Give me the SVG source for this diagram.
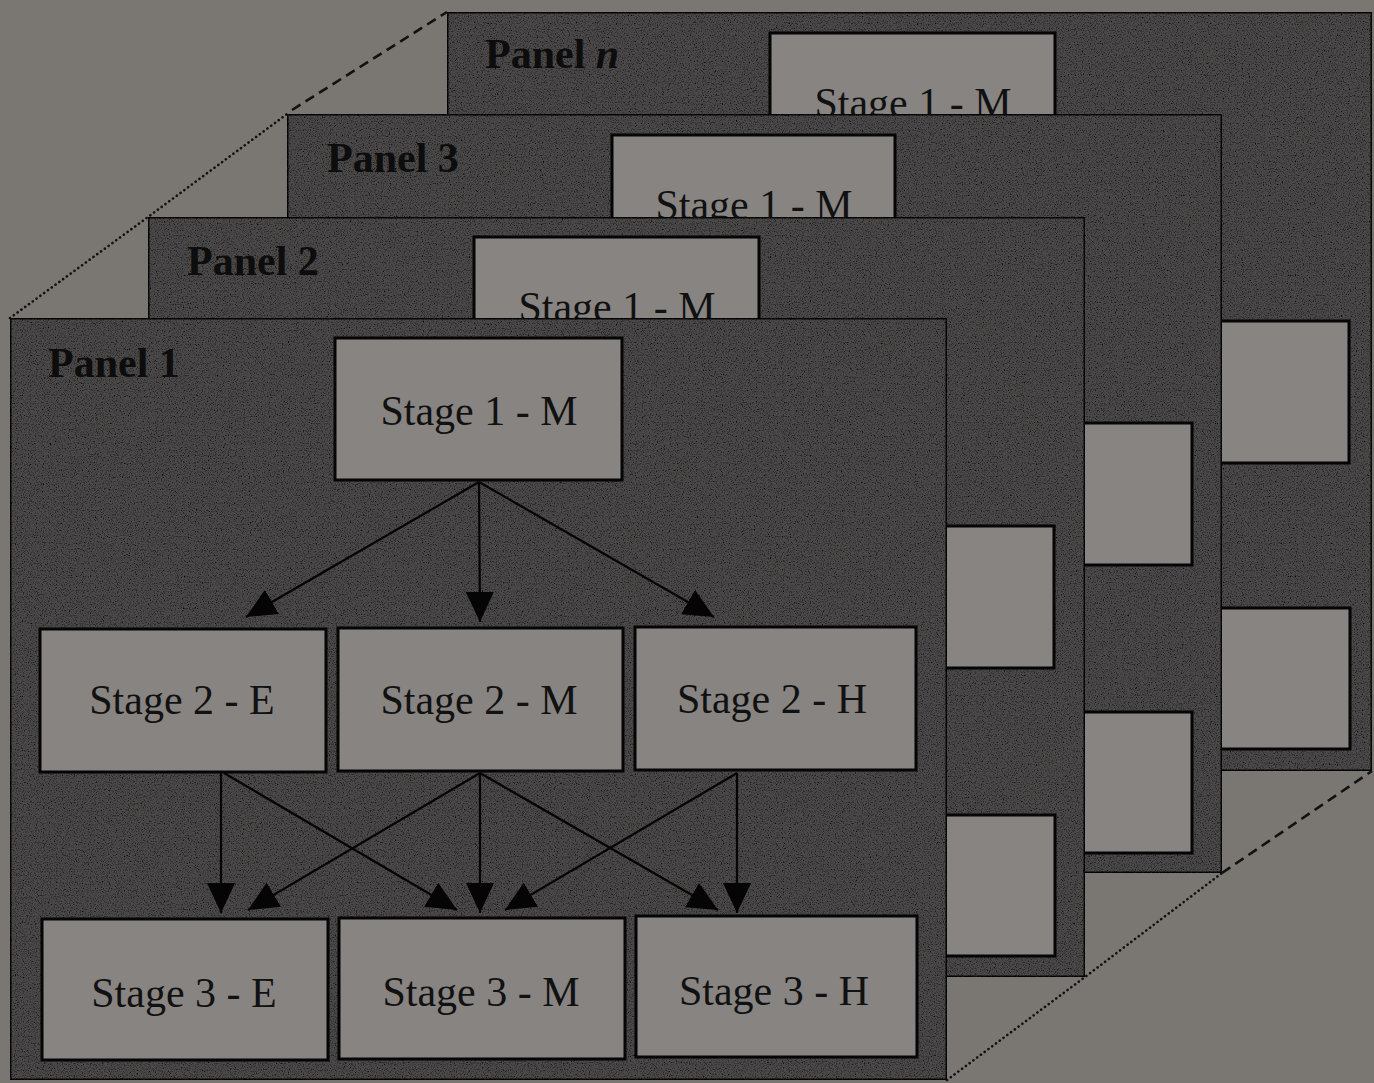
<svg xmlns="http://www.w3.org/2000/svg" width="1374" height="1083" viewBox="0 0 1374 1083">
<defs>
<style>
.bg{fill:#7a7672}
.panel{fill:#4c4a48;stroke:#0a0a0a;stroke-width:3}
.box{fill:#878481;stroke:#050505;stroke-width:3}
.plabel{font-family:"Liberation Serif","Times New Roman",serif;font-weight:bold;font-size:42px;fill:#0d0d0d}
.stxt{font-family:"Liberation Serif","Times New Roman",serif;font-size:42px;fill:#111;text-anchor:middle}
.edge{stroke:#050505;stroke-width:2.2;fill:none;marker-end:url(#ah)}
.dot{stroke:#111;stroke-width:2.6;fill:none;stroke-dasharray:0.1 4.6;stroke-linecap:round}
.dash{stroke:#111;stroke-width:2.6;fill:none;stroke-dasharray:10 6}
</style>
<marker id="ah" markerUnits="userSpaceOnUse" markerWidth="31" markerHeight="28" refX="30" refY="14" orient="auto">
<path d="M0,0 L30,14 L0,28 z" fill="#050505"/>
</marker>
<filter id="grain" x="0" y="0" width="100%" height="100%">
<feTurbulence type="fractalNoise" baseFrequency="0.85" numOctaves="2" seed="7" result="t"/>
<feColorMatrix in="t" type="matrix" values="0 0 0 0 0  0 0 0 0 0  0 0 0 0 0  2.6 0 0 0 -1.2" result="spk"/>
<feComposite in="spk" in2="SourceGraphic" operator="in" result="spk2"/>
<feMerge><feMergeNode in="SourceGraphic"/><feMergeNode in="spk2"/></feMerge>
</filter>
</defs>
<rect class="bg" x="0" y="0" width="1374" height="1083"/>

<g id="panel-n">
<rect class="panel" x="447" y="12" width="925" height="759" filter="url(#grain)"/>
<text class="plabel" x="485" y="68">Panel <tspan font-style="italic">n</tspan></text>
<g id="pn-stage1"><rect class="box" x="770" y="33" width="285" height="140"/><text class="stxt" x="913" y="117">Stage 1 - M</text></g>
<rect class="box" x="1070" y="321" width="279" height="142"/>
<rect class="box" x="1070" y="608" width="280" height="141"/>
</g>

<g id="panel-3">
<rect class="panel" x="287" y="114" width="935" height="759" filter="url(#grain)"/>
<text class="plabel" x="327" y="172">Panel 3</text>
<g id="p3-stage1"><rect class="box" x="612" y="135" width="283" height="140"/><text class="stxt" x="754" y="219">Stage 1 - M</text></g>
<rect class="box" x="912" y="423" width="280" height="142"/>
<rect class="box" x="912" y="712" width="280" height="141"/>
</g>

<g id="panel-2">
<rect class="panel" x="148" y="217" width="937" height="760" filter="url(#grain)"/>
<text class="plabel" x="187" y="275">Panel 2</text>
<g id="p2-stage1"><rect class="box" x="474" y="237" width="285" height="140"/><text class="stxt" x="617" y="321">Stage 1 - M</text></g>
<rect class="box" x="773" y="526" width="281" height="142"/>
<rect class="box" x="774" y="815" width="281" height="141"/>
</g>

<g id="panel-1">
<rect class="panel" x="10" y="318" width="937" height="762" filter="url(#grain)"/>
<text class="plabel" x="48" y="377">Panel 1</text>
<g id="s1m"><rect class="box" x="335" y="338" width="287" height="142"/><text class="stxt" x="479" y="425">Stage 1 - M</text></g>
<g id="s2e"><rect class="box" x="40" y="629" width="286" height="143"/><text class="stxt" x="182" y="714">Stage 2 - E</text></g>
<g id="s2m"><rect class="box" x="338" y="628" width="285" height="143"/><text class="stxt" x="479" y="714">Stage 2 - M</text></g>
<g id="s2h"><rect class="box" x="635" y="627" width="281" height="143"/><text class="stxt" x="772" y="713">Stage 2 - H</text></g>
<g id="s3e"><rect class="box" x="42" y="919" width="286" height="141"/><text class="stxt" x="184" y="1007">Stage 3 - E</text></g>
<g id="s3m"><rect class="box" x="339" y="918" width="286" height="141"/><text class="stxt" x="481" y="1006">Stage 3 - M</text></g>
<g id="s3h"><rect class="box" x="636" y="916" width="281" height="141"/><text class="stxt" x="774" y="1005">Stage 3 - H</text></g>
</g>

<g id="connectors">
<line class="edge" x1="479" y1="482" x2="246" y2="617"/>
<line class="edge" x1="479" y1="482" x2="480" y2="622"/>
<line class="edge" x1="479" y1="482" x2="714" y2="617"/>
<line class="edge" x1="221" y1="773" x2="221" y2="913"/>
<line class="edge" x1="224" y1="773" x2="457" y2="910"/>
<line class="edge" x1="480" y1="773" x2="248" y2="910"/>
<line class="edge" x1="480" y1="773" x2="480" y2="913"/>
<line class="edge" x1="480" y1="773" x2="718" y2="910"/>
<line class="edge" x1="737" y1="773" x2="505" y2="910"/>
<line class="edge" x1="737" y1="773" x2="737" y2="913"/>
</g>

<g id="guides">
<polyline class="dot" points="10,318 148,217 287,114"/>
<line class="dash" x1="292" y1="110" x2="447" y2="12"/>
<polyline class="dot" points="947,1080 1085,977 1222,873"/>
<line class="dash" x1="1222" y1="873" x2="1372" y2="771"/>
</g>
</svg>
